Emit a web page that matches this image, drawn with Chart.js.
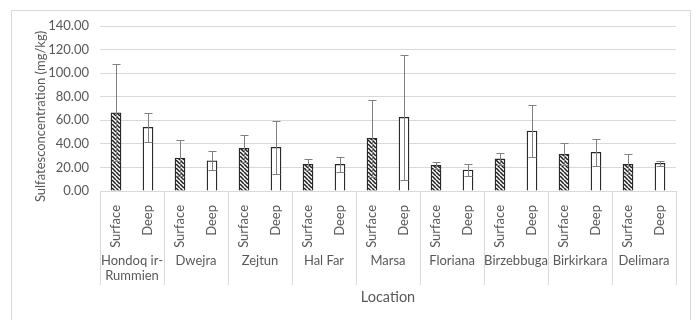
<!DOCTYPE html>
<html>
<head>
<meta charset="utf-8">
<script src="https://cdn.jsdelivr.net/npm/chart.js@4/dist/chart.umd.min.js"></script>
<style>
  html, body { margin: 0; padding: 0; background: #ffffff; }
  #wrap { width: 696px; height: 320px; position: relative; }
</style>
</head>
<body>
<div id="wrap"><canvas id="chart" width="696" height="320"></canvas></div>
<script>
// Sampling sites and depths
const locations = ['Hondoq ir-Rummien', 'Dwejra', 'Zejtun', 'Hal Far', 'Marsa', 'Floriana', 'Birzebbuga', 'Birkirkara', 'Delimara'];
const depths = ['Surface', 'Deep'];

// Mean sulfate concentration (mg/kg) and standard deviation per site
const surfaceMean = [66.4, 28.0, 36.2, 22.6, 44.7, 21.8, 27.2, 31.1, 22.6];
const surfaceSd   = [41.0, 15.3, 11.6, 4.5, 32.5, 3.0, 4.8, 9.3, 8.5];
const deepMean    = [54.0, 25.7, 37.0, 22.6, 62.5, 17.8, 50.9, 32.8, 23.5];
const deepSd      = [12.6, 8.0, 22.5, 6.3, 52.9, 5.4, 22.0, 11.3, 2.0];

// Value axis ticks
const yMin = 0, yMax = 140, yStep = 20;

const FONT = 'Lato, "Open Sans", sans-serif';
const TEXT = '#595959';
const LINE = '#d9d9d9';
const INK = '#262626';

// One bar per (site, depth), interleaved
const labels = locations.flatMap(() => depths);
const values = locations.flatMap((_, i) => [surfaceMean[i], deepMean[i]]);
const errors = locations.flatMap((_, i) => [surfaceSd[i], deepSd[i]]);

// Diagonal hatch for surface samples
function hatch() {
  const s = 4;
  const c = document.createElement('canvas');
  c.width = s; c.height = s;
  const g = c.getContext('2d');
  g.fillStyle = '#ffffff';
  g.fillRect(0, 0, s, s);
  g.strokeStyle = '#1e1e1e';
  g.lineWidth = 1.5;
  for (let k = -1; k <= 1; k++) {
    g.beginPath();
    g.moveTo(k * s, 0);
    g.lineTo(k * s + s, s);
    g.stroke();
  }
  return g.createPattern(c, 'repeat');
}
const hatchFill = hatch();
const fills = labels.map((d) => d === 'Surface' ? hatchFill : '#ffffff');

// Outer frame
const framePlugin = {
  id: 'frame',
  beforeDraw(chart) {
    const ctx = chart.ctx;
    ctx.save();
    ctx.strokeStyle = LINE;
    ctx.lineWidth = 1;
    ctx.strokeRect(11.5, 10.5, 679, 400);
    ctx.restore();
  }
};

// Standard deviation whiskers
const errorPlugin = {
  id: 'errorBars',
  afterDatasetsDraw(chart) {
    const ctx = chart.ctx;
    const x = chart.scales.x, y = chart.scales.y;
    ctx.save();
    ctx.strokeStyle = '#808080';
    ctx.lineWidth = 1;
    values.forEach((v, i) => {
      const px = Math.round(x.getPixelForValue(i)) + 0.5;
      const top = Math.round(y.getPixelForValue(v + errors[i])) + 0.5;
      const bot = Math.round(y.getPixelForValue(Math.max(0, v - errors[i]))) + 0.5;
      ctx.beginPath();
      ctx.moveTo(px, top); ctx.lineTo(px, bot);
      ctx.moveTo(px - 4, top); ctx.lineTo(px + 4, top);
      ctx.moveTo(px - 4, bot); ctx.lineTo(px + 4, bot);
      ctx.stroke();
    });
    ctx.restore();
  }
};

// Site labels, group dividers and axis titles
function wrapText(ctx, text, maxW) {
  if (ctx.measureText(text).width <= maxW) return [text];
  let idx = text.indexOf('-');
  if (idx >= 0) idx += 1; else idx = text.indexOf(' ');
  if (idx <= 0) return [text];
  return [text.slice(0, idx).trim(), text.slice(idx).trim()];
}
const groupPlugin = {
  id: 'groups',
  afterDraw(chart) {
    const ctx = chart.ctx;
    const x = chart.scales.x;
    const area = chart.chartArea;
    const half = (x.getPixelForValue(1) - x.getPixelForValue(0)) / 2;
    const boxBottom = area.bottom + 94;
    ctx.save();
    ctx.strokeStyle = LINE;
    ctx.lineWidth = 1;
    for (let g = 0; g <= locations.length; g++) {
      const px = g < locations.length
        ? x.getPixelForValue(2 * g) - half
        : x.getPixelForValue(2 * g - 1) + half;
      const sx = Math.round(px) + 0.5;
      ctx.beginPath();
      ctx.moveTo(sx, area.bottom);
      ctx.lineTo(sx, boxBottom);
      ctx.stroke();
    }
    ctx.fillStyle = TEXT;
    ctx.font = '13px ' + FONT;
    ctx.textAlign = 'center';
    ctx.textBaseline = 'middle';
    locations.forEach((name, g) => {
      const cx = (x.getPixelForValue(2 * g) + x.getPixelForValue(2 * g + 1)) / 2;
      const lines = wrapText(ctx, name, half * 4 - 2);
      lines.forEach((ln, k) => ctx.fillText(ln, cx, area.bottom + 70 + k * 14.5));
    });
    ctx.font = '14.5px ' + FONT;
    ctx.fillText('Location', (area.left + area.right) / 2, area.bottom + 106);
    ctx.font = '13px ' + FONT;
    ctx.translate(41, (area.top + area.bottom) / 2 + 8);
    ctx.rotate(-Math.PI / 2);
    ctx.fillText('Sulfatesconcentration (mg/kg)', 0, 0);
    ctx.restore();
  }
};

new Chart(document.getElementById('chart'), {
  type: 'bar',
  data: {
    labels: labels,
    datasets: [{
      data: values,
      backgroundColor: fills,
      borderColor: INK,
      borderWidth: 1.3,
      barThickness: 10
    }]
  },
  options: {
    responsive: false,
    animation: false,
    devicePixelRatio: 1,
    layout: { padding: { left: 0, right: 20, top: 26, bottom: 0 } },
    plugins: {
      legend: { display: false },
      tooltip: { enabled: false }
    },
    scales: {
      x: {
        grid: { display: false },
        border: { display: true, color: LINE, width: 1 },
        ticks: {
          color: TEXT,
          font: { family: FONT, size: 13 },
          minRotation: 90,
          maxRotation: 90,
          autoSkip: false,
          padding: 6
        },
        afterFit(scale) { scale.height = 129; }
      },
      y: {
        min: yMin,
        max: yMax,
        grid: { color: LINE, drawTicks: false },
        border: { display: false },
        ticks: {
          stepSize: yStep,
          color: TEXT,
          font: { family: FONT, size: 13 },
          padding: 11,
          callback: (v) => Number(v).toFixed(2)
        },
        afterFit(scale) { scale.width = 100; }
      }
    }
  },
  plugins: [framePlugin, errorPlugin, groupPlugin]
});
</script>
</body>
</html>
